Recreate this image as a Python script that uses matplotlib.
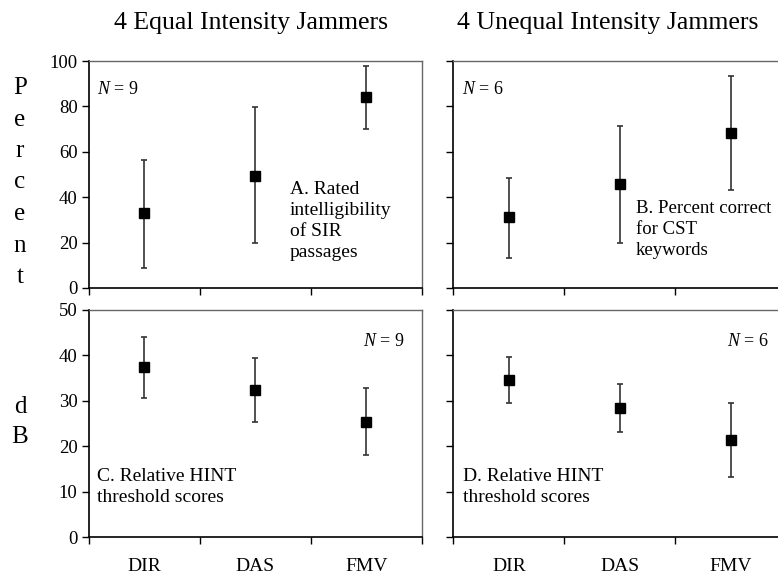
import matplotlib
matplotlib.use("Agg")
import matplotlib.pyplot as plt

plt.rcParams['font.family'] = ['Liberation Serif', 'DejaVu Serif']
plt.rcParams['mathtext.fontset'] = 'custom'
plt.rcParams['mathtext.rm'] = 'Liberation Serif'
plt.rcParams['mathtext.it'] = 'Liberation Serif:italic'

categories = ['DIR', 'DAS', 'FMV']

# A: rated intelligibility (equal jammers)
a_mean = [32.9, 49.5, 84.1]
a_low = [8.8, 19.7, 70.2]
a_high = [56.5, 79.9, 97.6]
# B: percent correct CST (unequal jammers)
b_mean = [31.1, 45.9, 68.1]
b_low = [13.3, 19.7, 43.0]
b_high = [48.3, 71.5, 93.2]
# C: HINT threshold (equal jammers)
c_mean = [37.5, 32.4, 25.4]
c_low = [30.7, 25.4, 18.0]
c_high = [44.1, 39.5, 32.8]
# D: HINT threshold (unequal jammers)
d_mean = [34.6, 28.5, 21.4]
d_low = [29.6, 23.2, 13.2]
d_high = [39.6, 33.8, 29.5]

W, H = 778, 576
fig = plt.figure(figsize=(W / 100, H / 100), dpi=100)


def px_axes(x0, y0, x1, y1):
    return fig.add_axes([x0 / W, 1 - y1 / H, (x1 - x0) / W, (y1 - y0) / H])


def panel(ax, mean, low, high, ymax, step, show_ylab, show_xlab):
    x = [1, 2, 3]
    err = [[m - l for m, l in zip(mean, low)], [h - m for m, h in zip(mean, high)]]
    ax.errorbar(x, mean, yerr=err, fmt='s', color='black', ms=7.5,
                ecolor='#333333', elinewidth=1.2, capsize=2.5, capthick=1.2)
    ax.set_xlim(0.5, 3.5)
    ax.set_ylim(0, ymax)
    ax.set_yticks(range(0, ymax + 1, step))
    ax.set_xticks([0.5, 1.5, 2.5, 3.5])
    ax.set_xticklabels([])
    ax.set_xticks(x, minor=True)
    if show_xlab:
        ax.set_xticklabels(categories, minor=True)
    ax.tick_params(axis='x', which='minor', length=0, pad=15, labelsize=14)
    ax.tick_params(axis='x', which='major', direction='out', length=5, width=1)
    ax.tick_params(axis='y', direction='out', length=5, width=1, labelsize=13.5,
                   labelleft=show_ylab, pad=3)
    for s in ['top', 'right']:
        ax.spines[s].set_color('#666666')
        ax.spines[s].set_linewidth(1)
    for s in ['left', 'bottom']:
        ax.spines[s].set_color('black')
        ax.spines[s].set_linewidth(1.2)


axA = px_axes(88.7, 61, 421.7, 288)
axB = px_axes(453.3, 61, 786.3, 288)
axC = px_axes(88.7, 310, 421.7, 537.3)
axD = px_axes(453.3, 310, 786.3, 537.3)

panel(axA, a_mean, a_low, a_high, 100, 20, True, False)
panel(axB, b_mean, b_low, b_high, 100, 20, False, False)
panel(axC, c_mean, c_low, c_high, 50, 10, True, True)
panel(axD, d_mean, d_low, d_high, 50, 10, False, True)

nfs = 13
fig.text(97 / W, 1 - 90 / H, '$N$ = 9', fontsize=nfs, va='center', ha='left')
fig.text(462 / W, 1 - 90 / H, '$N$ = 6', fontsize=nfs, va='center', ha='left')
fig.text(405 / W, 1 - 342 / H, '$N$ = 9', fontsize=nfs, va='center', ha='right')
fig.text(769 / W, 1 - 342 / H, '$N$ = 6', fontsize=nfs, va='center', ha='right')

fs = 14
ls = 1.32
fig.text(290 / W, 1 - 181 / H, 'A. Rated\nintelligibility\nof SIR\npassages',
         fontsize=fs, va='top', ha='left', linespacing=ls)
fig.text(636 / W, 1 - 200 / H, 'B. Percent correct\nfor CST\nkeywords',
         fontsize=13.5, va='top', ha='left', linespacing=ls)
fig.text(97 / W, 1 - 468 / H, 'C. Relative HINT\nthreshold scores',
         fontsize=fs, va='top', ha='left', linespacing=ls)
fig.text(463 / W, 1 - 468 / H, 'D. Relative HINT\nthreshold scores',
         fontsize=fs, va='top', ha='left', linespacing=ls)

fig.text(251 / W, 1 - 23 / H, '4 Equal Intensity Jammers', fontsize=18.5,
         ha='center', va='center')
fig.text(608 / W, 1 - 23 / H, '4 Unequal Intensity Jammers', fontsize=18.5,
         ha='center', va='center')

for i, ch in enumerate('Percent'):
    fig.text(20 / W, 1 - (88 + i * 31.5) / H, ch, fontsize=18, ha='center', va='center')
for i, ch in enumerate('dB'):
    fig.text(20 / W, 1 - (407 + i * 30) / H, ch, fontsize=18, ha='center', va='center')

fig.savefig('out.png', dpi=100)
